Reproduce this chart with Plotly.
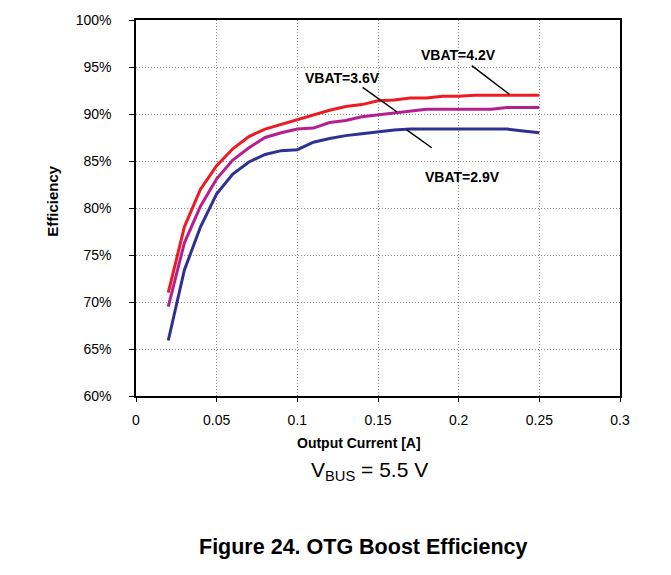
import plotly.graph_objects as go

# ---- data ----
current_a = [0.02, 0.03, 0.04, 0.05, 0.06, 0.07, 0.08, 0.09, 0.10, 0.11, 0.12, 0.13,
             0.14, 0.15, 0.16, 0.17, 0.18, 0.19, 0.20, 0.21, 0.22, 0.23, 0.24, 0.25]

eff_42 = [71.0, 78.0, 82.0, 84.5, 86.3, 87.6, 88.4, 88.9, 89.4, 89.9, 90.4, 90.8,
          91.0, 91.4, 91.5, 91.7, 91.7, 91.9, 91.9, 92.0, 92.0, 92.0, 92.0, 92.0]
eff_36 = [69.5, 76.3, 80.2, 83.1, 85.1, 86.4, 87.5, 88.0, 88.4, 88.5, 89.1, 89.3,
          89.7, 89.9, 90.1, 90.3, 90.5, 90.5, 90.5, 90.5, 90.5, 90.7, 90.7, 90.7]
eff_29 = [65.9, 73.4, 78.0, 81.5, 83.6, 84.9, 85.7, 86.1, 86.2, 87.0, 87.4, 87.7,
          87.9, 88.1, 88.3, 88.4, 88.4, 88.4, 88.4, 88.4, 88.4, 88.4, 88.2, 88.0]

series_names = ["VBAT=4.2V", "VBAT=3.6V", "VBAT=2.9V"]
series_values = [eff_42, eff_36, eff_29]
series_colors = ["#ED1C24", "#B5208F", "#2E3192"]

x_ticks = [0, 0.05, 0.1, 0.15, 0.2, 0.25, 0.3]
x_tick_labels = ["0", "0.05", "0.1", "0.15", "0.2", "0.25", "0.3"]
y_ticks = [60, 65, 70, 75, 80, 85, 90, 95, 100]
y_tick_labels = [f"{v}%" for v in y_ticks]

# label positions (text centre) and leader line (start -> end) in data units
label_pos = [(0.2002, 96.28), (0.1280, 93.86), (0.2024, 83.33)]
leader_lines = [((0.2081, 95.14), (0.2314, 92.1)),
                ((0.1405, 92.84), (0.1616, 90.24)),
                ((0.1678, 88.30), (0.1833, 86.41))]

FONT = "Liberation Sans, Arial, sans-serif"

fig = go.Figure()
for name, vals, col in zip(series_names, series_values, series_colors):
    fig.add_trace(go.Scatter(x=current_a, y=vals, mode="lines", name=name,
                             line=dict(color=col, width=3), showlegend=False))

for name, (lx, ly) in zip(series_names, label_pos):
    fig.add_annotation(x=lx, y=ly, xref="x", yref="y", text=f"<b>{name}</b>",
                       showarrow=False, font=dict(family=FONT, size=14, color="#000"))

for (x0, y0), (x1, y1) in leader_lines:
    fig.add_shape(type="line", xref="x", yref="y", x0=x0, y0=y0, x1=x1, y1=y1,
                  line=dict(color="#000", width=1.5))

# top rule across page
fig.add_shape(type="line", xref="paper", yref="paper", x0=-0.3, x1=1.2,
              y0=1.037, y1=1.037, line=dict(color="#000", width=2))

# axis titles and captions
fig.add_annotation(x=0.461, y=-0.124, xref="paper", yref="paper",
                   text="<b>Output Current [A]</b>", showarrow=False,
                   font=dict(family=FONT, size=14, color="#000"), yanchor="middle")
fig.add_annotation(x=-0.173, y=0.52, xref="paper", yref="paper",
                   text="<b>Efficiency</b>", showarrow=False, textangle=-90,
                   font=dict(family=FONT, size=15, color="#000"),
                   xanchor="center", yanchor="middle")
fig.add_annotation(x=0.483, y=-0.199, xref="paper", yref="paper",
                   text="V<sub>BUS</sub> = 5.5 V", showarrow=False,
                   font=dict(family=FONT, size=21, color="#000"), yanchor="middle")
fig.add_annotation(x=0.470, y=-0.401, xref="paper", yref="paper",
                   text="<b>Figure 24. OTG Boost Efficiency</b>", showarrow=False,
                   font=dict(family=FONT, size=21.5, color="#000"), yanchor="middle")

fig.update_layout(
    width=671, height=575,
    margin=dict(l=128, r=59, t=12, b=187),
    paper_bgcolor="white", plot_bgcolor="white",
    font=dict(family=FONT, size=14, color="#000"),
    xaxis=dict(range=[0, 0.3], tickvals=x_ticks, ticktext=x_tick_labels,
               showgrid=True, gridcolor="#8a8a8a", griddash="1px,2px", gridwidth=1,
               showline=True, linecolor="#000", linewidth=1.5, mirror=True,
               ticks="outside", ticklen=4, tickcolor="#000", zeroline=False,
               tickfont=dict(size=14), ticklabelstandoff=6, automargin=False),
    yaxis=dict(range=[60, 100], tickvals=y_ticks, ticktext=y_tick_labels,
               showgrid=True, gridcolor="#8a8a8a", griddash="1px,2px", gridwidth=1,
               showline=True, linecolor="#000", linewidth=1.5, mirror=True,
               ticks="outside", ticklen=5, tickcolor="#000", zeroline=False,
               tickfont=dict(size=14), ticklabelstandoff=15, automargin=False),
)

fig.write_html("out.html")
